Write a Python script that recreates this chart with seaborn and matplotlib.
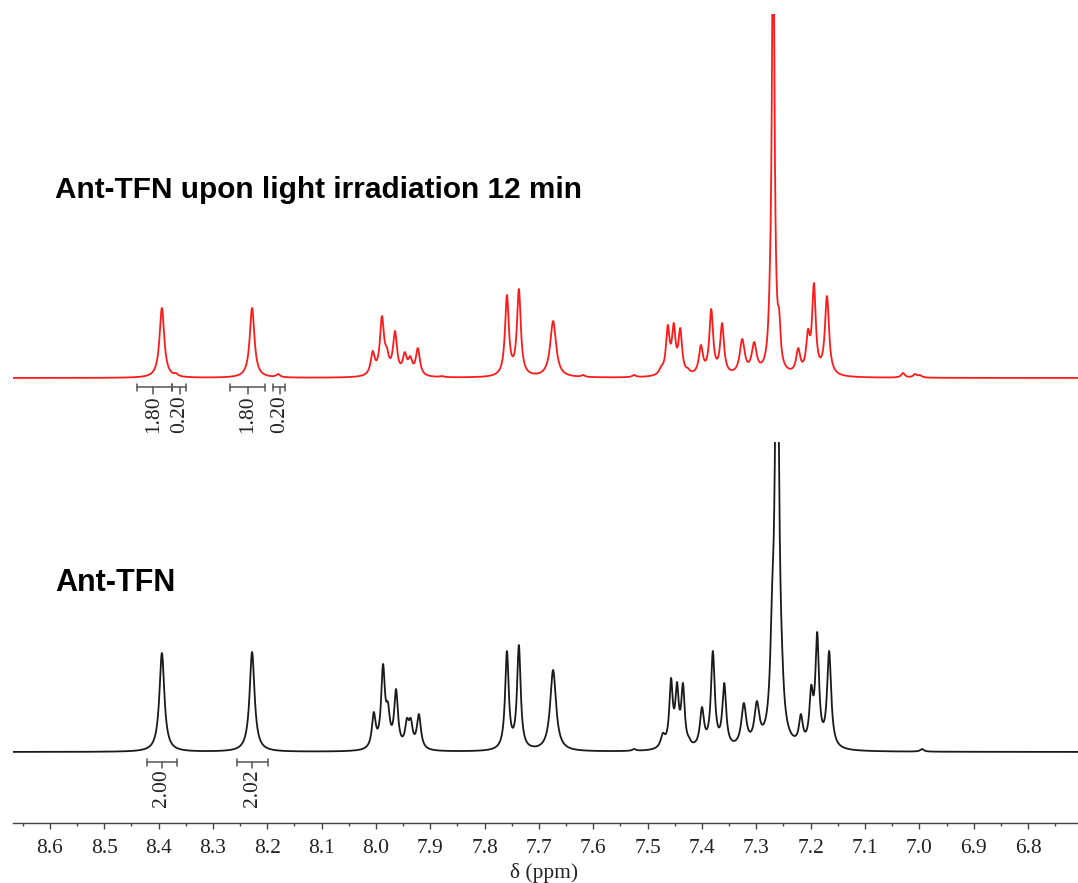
import numpy as np
import pandas as pd
import seaborn as sns
import matplotlib
matplotlib.use("Agg")
import matplotlib.pyplot as plt
from matplotlib.ticker import MultipleLocator, FormatStrFormatter

# ---------------- data ----------------
# peak lists: chemical shift (ppm), observed height (arb.), half-width (ppm)
black_shift = [8.394, 8.228, 8.004, 7.987, 7.978, 7.963, 7.943, 7.936, 7.921,
               7.759, 7.737, 7.674, 7.525, 7.472, 7.457, 7.446, 7.435, 7.424,
               7.400, 7.380, 7.359, 7.323, 7.299, 7.271, 7.262, 7.253,
               7.218, 7.199, 7.188, 7.166, 6.995]
black_height = [99, 100, 40, 88, 50, 63, 34, 34, 38,
                101, 107, 82, 3, 19, 74, 70, 69, 15,
                45, 101, 69, 49, 51, 165, 480, 115,
                38, 67, 120, 101, 3]
black_width = [0.0055, 0.0055, 0.0042, 0.0042, 0.0042, 0.0042, 0.0042, 0.0042, 0.0045,
               0.0040, 0.0040, 0.0065, 0.004, 0.005, 0.0038, 0.0038, 0.0038, 0.004,
               0.0045, 0.0042, 0.0042, 0.0055, 0.0055, 0.004, 0.0045, 0.004,
               0.0042, 0.0040, 0.0040, 0.0045, 0.004]

red_shift = [8.394, 8.368, 8.228, 8.180, 8.006, 7.989, 7.980, 7.965, 7.947, 7.937,
             7.923, 7.879, 7.759, 7.737, 7.674, 7.619, 7.525, 7.475, 7.463, 7.452,
             7.440, 7.426, 7.402, 7.383, 7.363, 7.326, 7.304, 7.275, 7.269, 7.258,
             7.223, 7.205, 7.194, 7.170, 7.030, 7.008, 6.999]
red_height = [70, 5, 70, 4, 27, 62, 31, 47, 26, 22,
              30, 2, 83, 89, 57, 3, 3, 12, 53, 55,
              50, 10, 33, 69, 55, 39, 36, 114, 470, 69,
              30, 49, 95, 82, 5, 4, 3]
red_width = [0.0052, 0.004, 0.0052, 0.004, 0.0045, 0.0045, 0.0045, 0.0045, 0.0045, 0.0045,
             0.0045, 0.004, 0.0042, 0.0042, 0.0065, 0.004, 0.004, 0.005, 0.0040, 0.0040,
             0.0040, 0.004, 0.0045, 0.0042, 0.0042, 0.0055, 0.0055, 0.003, 0.0030, 0.003,
             0.0045, 0.0040, 0.0040, 0.0045, 0.004, 0.004, 0.004]

# integration brackets: left ppm, right ppm, tick ppm, label
black_int_lo = [8.421, 8.256]
black_int_hi = [8.366, 8.199]
black_int_mid = [8.394, 8.228]
black_int_lab = ["2.00", "2.02"]

red_int_lo = [8.440, 8.375, 8.269, 8.190]
red_int_hi = [8.375, 8.350, 8.204, 8.167]
red_int_mid = [8.410, 8.361, 8.236, 8.177]
red_int_lab = ["1.80", "0.20", "1.80", "0.20"]

tick_values = [8.6, 8.5, 8.4, 8.3, 8.2, 8.1, 8.0, 7.9, 7.8, 7.7, 7.6, 7.5,
               7.4, 7.3, 7.2, 7.1, 7.0, 6.9, 6.8]

label_top = "Ant-TFN upon light irradiation 12 min"
label_bottom = "Ant-TFN"
x_title = "δ (ppm)"

# ---------------- spectrum construction ----------------
ppm = np.linspace(8.72, 6.68, 12000)


def spectrum(shifts, heights, widths):
    c = np.asarray(shifts, float)
    h = np.asarray(heights, float)
    w = np.asarray(widths, float)
    M = 1.0 / (1.0 + ((c[:, None] - c[None, :]) / w[None, :]) ** 2)
    amp = np.linalg.solve(M, h)
    amp = np.clip(amp, 0, None)
    return (amp[None, :] / (1.0 + ((ppm[:, None] - c[None, :]) / w[None, :]) ** 2)).sum(1)


df_black = pd.DataFrame({"ppm": ppm, "I": spectrum(black_shift, black_height, black_width)})
df_red = pd.DataFrame({"ppm": ppm, "I": spectrum(red_shift, red_height, red_width)})

# ---------------- figure ----------------
sns.set_theme(style="white")
plt.rcParams["font.family"] = ["Liberation Serif", "DejaVu Serif"]

W, H = 1078, 883
fig = plt.figure(figsize=(W / 100, H / 100), dpi=100)
left = 13 / W
ax_b = fig.add_axes([left, (H - 823) / H, 1 - left, (823 - 442) / H])
ax_r = fig.add_axes([left, (H - 442) / H, 1 - left, (442 - 14) / H])

xl = (8.668, 6.708)

sns.lineplot(data=df_black, x="ppm", y="I", ax=ax_b, color="#1a1a1a",
             linewidth=1.3, estimator=None, sort=False)
sns.lineplot(data=df_red, x="ppm", y="I", ax=ax_r, color="#ff1a1a",
             linewidth=1.3, estimator=None, sort=False)

ax_b.set_xlim(*xl)
ax_r.set_xlim(*xl)
ax_b.set_ylim(-71, 310)
ax_r.set_ylim(-64, 364)

for ax in (ax_b, ax_r):
    for s in ("top", "left", "right"):
        ax.spines[s].set_visible(False)
    ax.set_xlabel("")
    ax.set_ylabel("")
    ax.set_yticks([])
    ax.patch.set_alpha(0)

ax_r.spines["bottom"].set_visible(False)
ax_r.set_xticks([])

ax_b.spines["bottom"].set_color("#444444")
ax_b.spines["bottom"].set_linewidth(1.0)
ax_b.set_xticks(tick_values)
ax_b.xaxis.set_major_formatter(FormatStrFormatter("%.1f"))
ax_b.xaxis.set_minor_locator(MultipleLocator(0.05))
ax_b.tick_params(axis="x", which="major", direction="out", length=4.5, width=1.0,
                 color="#444444", labelsize=15.5, labelcolor="#222222", pad=7,
                 bottom=True)
ax_b.tick_params(axis="x", which="minor", direction="out", length=2.5, width=1.0,
                 color="#444444", bottom=True)


def brackets(ax, lo, hi, mid, labs, y0, cap, drop):
    for a, b, m, t in zip(lo, hi, mid, labs):
        ax.plot([a, b], [y0, y0], color="#555555", lw=1.1, clip_on=False)
        ax.plot([a, a], [y0 - cap, y0 + cap], color="#555555", lw=1.1, clip_on=False)
        ax.plot([b, b], [y0 - cap, y0 + cap], color="#555555", lw=1.1, clip_on=False)
        ax.plot([m, m], [y0, y0 - drop], color="#555555", lw=1.1, clip_on=False)
        ax.text(m, y0 - drop - 1.5, t, rotation=90, ha="center", va="top",
                fontsize=15.5, color="#222222", clip_on=False)


brackets(ax_b, black_int_lo, black_int_hi, black_int_mid, black_int_lab, -10, 3.5, 6)
brackets(ax_r, red_int_lo, red_int_hi, red_int_mid, red_int_lab, -9, 3.5, 7)

fig.text(55 / W, 1 - 190 / H, label_top, ha="left", va="center",
         fontsize=21.4, fontweight="bold", family=["Liberation Sans", "DejaVu Sans"],
         color="black")
fig.text(55 / W, 1 - 583 / H, label_bottom, ha="left", va="center",
         fontsize=22, fontweight="bold", family=["Liberation Sans", "DejaVu Sans"],
         color="black")
fig.text(544 / W, 1 - 873 / H, x_title, ha="center", va="center",
         fontsize=15.5, color="#222222")

fig.savefig("out.png", dpi=100)
